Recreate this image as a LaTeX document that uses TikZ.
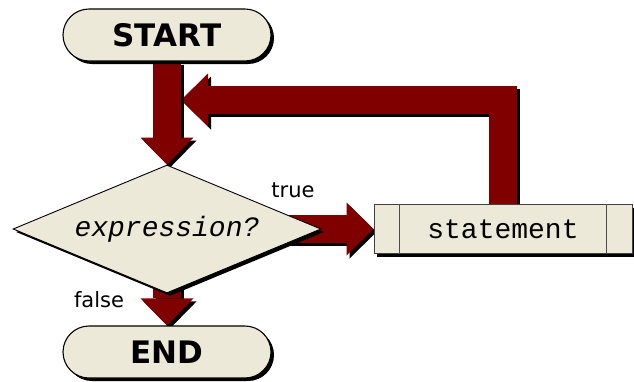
\documentclass[tikz,border=0pt]{standalone}
\usepackage{fontspec}
\setmainfont{DejaVu Sans}
\newfontfamily\monofont{Liberation Mono}
\usetikzlibrary{shapes.geometric,arrows.meta,shadows,backgrounds,calc}
\definecolor{beige}{HTML}{ECE9D8}
\definecolor{maroon}{HTML}{800000}
\begin{document}
\begin{tikzpicture}[x=1pt,y=-1pt,
  shadowed/.style={drop shadow={shadow xshift=3pt,shadow yshift=-3pt,fill=black,opacity=1}},
  terminal/.style={draw=black,line width=1.1pt,fill=beige,rounded corners=26pt,
    minimum width=208pt,minimum height=52pt,inner sep=0pt,shadowed,
    font=\fontsize{31}{33}\selectfont\bfseries},
  decision/.style={diamond,aspect=2.4,draw=black,line width=0.9pt,fill=beige,
    minimum width=308pt,minimum height=128pt,inner sep=0pt,shadowed,
    font=\fontsize{28}{30}\selectfont\monofont\itshape},
  process/.style={draw=black!75,line width=1pt,fill=beige,
    minimum width=258pt,minimum height=49pt,inner sep=0pt,shadowed,
    font=\fontsize{28}{30}\selectfont\monofont},
  bigarrow/.style={maroon,line width=28pt,line join=miter,
    -{Triangle[length=27pt,width=53pt,line width=0pt]}},
  arrowshadow/.style={bigarrow,black,transform canvas={xshift=3pt,yshift=-3pt}},
  lbl/.style={font=\fontsize{21}{23}\selectfont,inner sep=0pt}
]
\useasboundingbox (0,0) rectangle (634,381);
\node[terminal] (start) at (167,35) {START};
\node[decision] (cond) at (167,229) {expression?};
\node[process] (stmt) at (503,229) {statement};
\node[terminal] (end) at (167,352) {END};
\draw[black!70,line width=1.5pt] ($(stmt.north west)+(26,0)$) coordinate (sl1) -- ($(stmt.south west)+(26,0)$) coordinate (sl2);
\draw[black!70,line width=1.5pt] ($(stmt.north east)+(-26,0)$) coordinate (sr1) -- ($(stmt.south east)+(-26,0)$) coordinate (sr2);
\coordinate (merge) at (181,100);
\node[lbl,anchor=base] (ltrue) at (293,197) {true};
\node[lbl,anchor=base] (lfalse) at (99,307) {false};
\begin{scope}[on background layer]
  \draw[arrowshadow] (stmt.north) |- (merge);
  \draw[bigarrow] (stmt.north) |- (merge);
  \draw[arrowshadow] (start.south) -- (cond.north);
  \draw[bigarrow] (start.south) -- (cond.north);
  \draw[arrowshadow] (cond.center) -- (stmt.west);
  \draw[bigarrow] (cond.center) -- (stmt.west);
  \draw[arrowshadow] (cond.center) -- (end.north);
  \draw[bigarrow] (cond.center) -- (end.north);
\end{scope}
\end{tikzpicture}
\end{document}
